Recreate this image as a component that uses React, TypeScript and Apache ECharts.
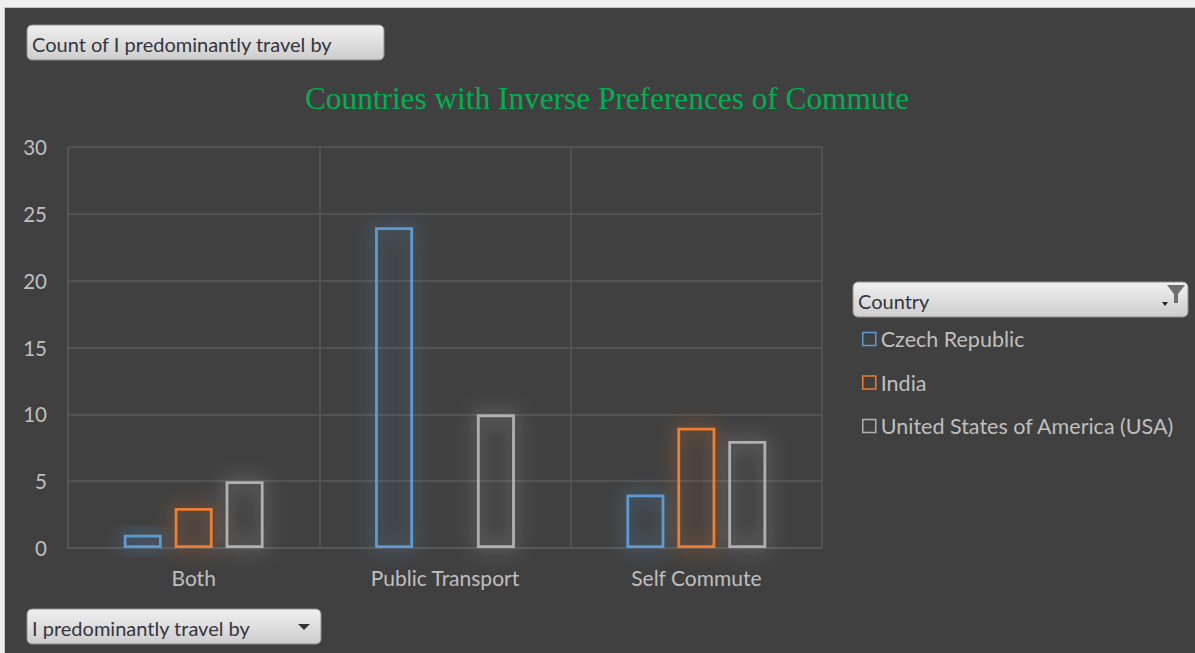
import React, { useEffect, useRef } from "react";
import * as echarts from "echarts";

const categories = ["Both", "Public Transport", "Self Commute"];
const seriesNames = ["Czech Republic", "India", "United States of America (USA)"];
const czechValues = [1, 24, 4];
const indiaValues: (number | null)[] = [3, null, 9];
const usaValues = [5, 10, 8];
const seriesColors = ["#5B9BD5", "#ED7D31", "#B0B0B0"];
const glowColors = ["rgba(91,155,213,1)", "rgba(237,125,49,1)", "rgba(200,200,200,0.9)"];
const yTicks = { min: 0, max: 30, interval: 5 };

const chartTitle = "Countries with Inverse Preferences of Commute";
const valueButtonText = "Count of I predominantly travel by";
const axisButtonText = "I predominantly travel by";
const legendButtonText = "Country";

const FONT = "Lato, 'Liberation Sans', sans-serif";

function button(x: number, y: number, w: number, h: number, label: string) {
  return [
    {
      type: "rect",
      shape: { x, y, width: w, height: h, r: 5 },
      style: {
        fill: {
          type: "linear",
          x: 0,
          y: 0,
          x2: 0,
          y2: 1,
          colorStops: [
            { offset: 0, color: "#f0f0f0" },
            { offset: 1, color: "#cdcdcd" },
          ],
        },
        stroke: "#8f8f8f",
        lineWidth: 1,
      },
      z: 10,
    },
    {
      type: "text",
      x: x + 5,
      y: y + h / 2 + 1,
      style: {
        text: label,
        fill: "#35353f",
        font: `20px ${FONT}`,
        verticalAlign: "middle",
        align: "left",
      },
      z: 11,
    },
  ];
}

export default function App() {
  const ref = useRef<HTMLDivElement>(null);

  useEffect(() => {
    if (!ref.current) return;
    const chart = echarts.init(ref.current, undefined, { renderer: "svg" });
    const allValues = [czechValues, indiaValues, usaValues];

    const option: any = {
      animation: false,
      backgroundColor: "#404040",
      grid: { left: 63, right: 373, top: 139, bottom: 105, containLabel: false },
      legend: {
        orient: "vertical",
        left: 857,
        top: 320,
        padding: 0,
        itemWidth: 13,
        itemHeight: 13,
        itemGap: 21.5,
        icon: "rect",
        textStyle: { color: "#bfbfbf", fontSize: 21.5, fontFamily: FONT, lineHeight: 20 },
        data: seriesNames.map((n, i) => ({
          name: n,
          itemStyle: {
            color: "rgba(0,0,0,0)",
            borderColor: seriesColors[i],
            borderWidth: 1.5,
            shadowBlur: 0,
            shadowColor: "transparent",
          },
        })),
      },
      xAxis: {
        type: "category",
        data: categories,
        axisTick: { show: false },
        axisLine: { show: true, lineStyle: { color: "#595959", width: 1.5 } },
        splitLine: { show: true, lineStyle: { color: "#595959", width: 1.5 } },
        axisLabel: { color: "#bfbfbf", fontSize: 21, fontFamily: FONT, margin: 19 },
      },
      yAxis: {
        type: "value",
        min: yTicks.min,
        max: yTicks.max,
        interval: yTicks.interval,
        axisLine: { show: true, lineStyle: { color: "#595959", width: 1.5 } },
        axisTick: { show: false },
        splitLine: { show: true, lineStyle: { color: "#595959", width: 1.5 } },
        axisLabel: { color: "#bfbfbf", fontSize: 20.5, fontFamily: FONT, margin: 21 },
      },
      series: seriesNames.map((n, i) => ({
        name: n,
        type: "bar",
        data: allValues[i],
        barWidth: 38,
        barGap: "34%",
        itemStyle: {
          color: "rgba(64,64,64,0)",
          borderColor: seriesColors[i],
          borderWidth: 2.8,
          shadowBlur: 20,
          shadowColor: glowColors[i],
        },
        emphasis: { disabled: true },
      })),
      graphic: [
        {
          type: "text",
          x: 602,
          y: 90,
          style: {
            text: chartTitle,
            fill: "#00B050",
            font: "31.3px 'Liberation Serif', 'Times New Roman', serif",
            align: "center",
            verticalAlign: "middle",
          },
        },
        ...button(22, 17, 357, 35, valueButtonText),
        ...button(22, 601, 294, 35, axisButtonText),
        {
          type: "polygon",
          shape: { points: [[293, 616], [305, 616], [299, 622]] },
          style: { fill: "#333" },
          z: 12,
        },
        ...button(848, 274, 335, 35, legendButtonText),
        {
          type: "polygon",
          shape: {
            points: [[1162, 277], [1180, 277], [1173, 286], [1173, 295], [1169, 295], [1169, 286]],
          },
          style: { fill: "#6e6e6e" },
          z: 12,
        },
        {
          type: "polygon",
          shape: { points: [[1157, 294], [1163, 294], [1160, 298]] },
          style: { fill: "#222" },
          z: 12,
        },
      ],
    };

    chart.setOption(option);
    return () => chart.dispose();
  }, []);

  return (
    <div
      style={{
        position: "fixed",
        left: 0,
        top: 0,
        width: 1195,
        height: 653,
        background: "#eeeeee",
        overflow: "hidden",
      }}
    >
      <div
        style={{
          position: "absolute",
          left: 4,
          top: 7,
          width: 1191,
          height: 646,
          borderLeft: "1px solid #c4c4c4",
          borderTop: "1px solid #c4c4c4",
          boxSizing: "border-box",
        }}
      >
        <div ref={ref} style={{ width: 1190, height: 645 }} />
      </div>
    </div>
  );
}
